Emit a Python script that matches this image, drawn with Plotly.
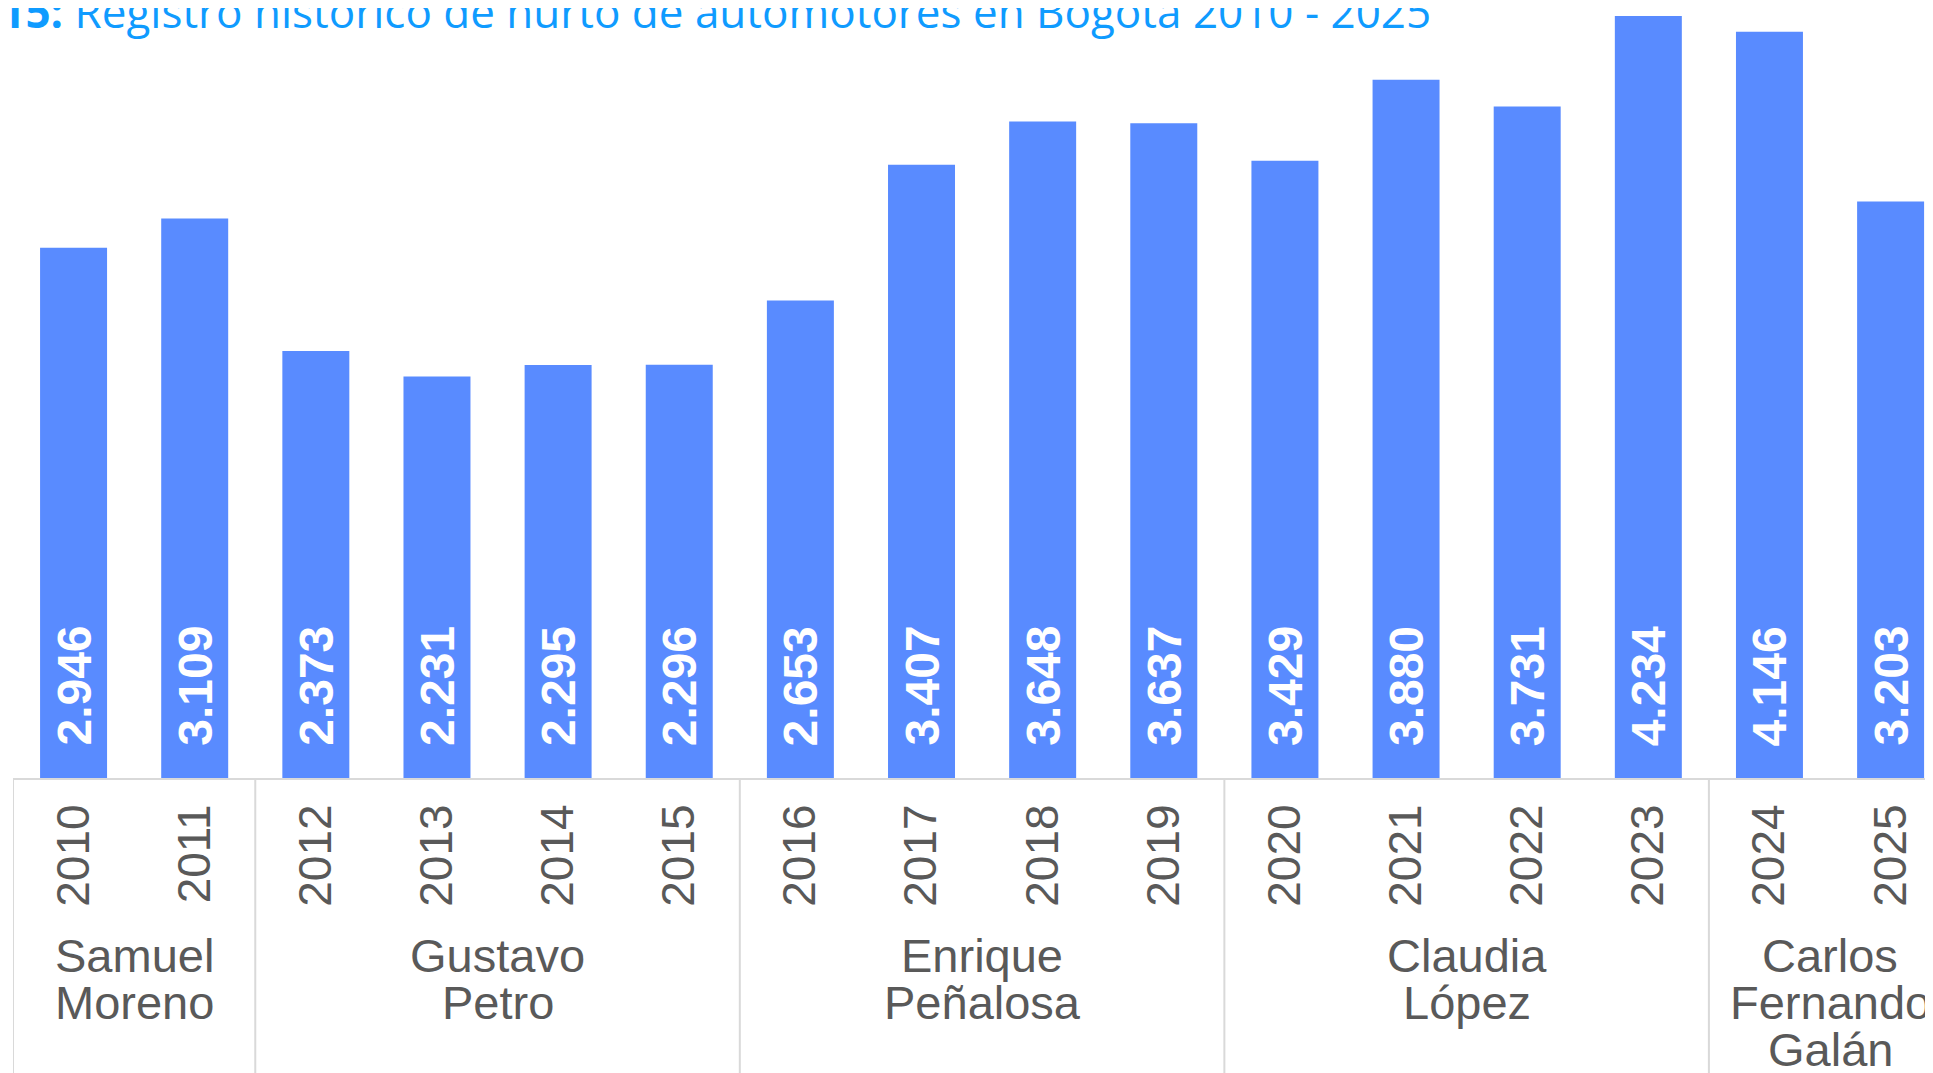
import plotly.graph_objects as go

years = ["2010", "2011", "2012", "2013", "2014", "2015", "2016", "2017",
         "2018", "2019", "2020", "2021", "2022", "2023", "2024", "2025"]
values = [2946, 3109, 2373, 2231, 2295, 2296, 2653, 3407,
          3648, 3637, 3429, 3880, 3731, 4234, 4146, 3203]
mayor_names = [["Samuel", "Moreno"], ["Gustavo", "Petro"], ["Enrique", "Peñalosa"],
               ["Claudia", "López"], ["Carlos", "Fernando", "Galán"]]
mayor_years = [2, 4, 4, 4, 2]   # number of years per mayor, in order
title_text = "Gráfica <b>15:</b> Registro histórico de hurto de automotores en Bogotá 2010 - 2025"

BAR_COLOR = "#598BFF"
TICK_COLOR = "#595959"
LINE_COLOR = "#D9D9D9"
FONT = "Liberation Sans, Arial, sans-serif"

labels = [f"{v:,}".replace(",", ".") for v in values]

fig = go.Figure()
fig.add_trace(go.Bar(
    x=years, y=values,
    marker=dict(color=BAR_COLOR, line=dict(width=0)),
    hoverinfo="x+y",
))

# value labels at bar base (x given as category index)
for i, lab in enumerate(labels):
    fig.add_annotation(
        x=i, y=0, xref="x", yref="y",
        text=f"<b>{lab}</b>", textangle=-90,
        showarrow=False, yanchor="bottom", xanchor="center",
        yshift=30,
        font=dict(family=FONT, size=48, color="white"),
    )

# mayor groups: dividers and names
start = 0
bounds = [-0.5]
for names, n in zip(mayor_names, mayor_years):
    center = start + (n - 1) / 2
    for i, line in enumerate(names):
        fig.add_annotation(
            x=center, y=0, xref="x", yref="paper",
            text=line, showarrow=False,
            xanchor="center", yanchor="top", yshift=-149 - 47 * i,
            font=dict(family=FONT, size=47, color=TICK_COLOR),
        )
    start += n
    bounds.append(start - 0.5)

for b in bounds[:-1]:
    fig.add_shape(type="line", x0=b, x1=b, xref="x", y0=0, y1=-1, yref="paper",
                  line=dict(color=LINE_COLOR, width=2), layer="above")

fig.add_annotation(
    x=0.7396, y=1, xref="paper", yref="paper",
    xanchor="right", yanchor="top", yshift=29,
    text=title_text, showarrow=False,
    font=dict(family="Open Sans, sans-serif", size=44, color="#0F9BFF"),
)

fig.update_layout(
    width=1925, height=1065,
    margin=dict(l=5, r=0, t=0, b=295),
    paper_bgcolor="white", plot_bgcolor="white",
    bargap=0.447,
    showlegend=False,
    xaxis=dict(
        type="category",
        range=[-0.5, 15.35],
        showline=True, linecolor=LINE_COLOR, linewidth=2,
        showgrid=False, ticks="",
        tickangle=-90, ticklabelstandoff=6,
        tickfont=dict(family=FONT, size=46, color=TICK_COLOR),
        automargin=False,
    ),
    yaxis=dict(
        range=[0, 4278], visible=False, showgrid=False, fixedrange=True,
    ),
)

fig.write_html("out.html")
